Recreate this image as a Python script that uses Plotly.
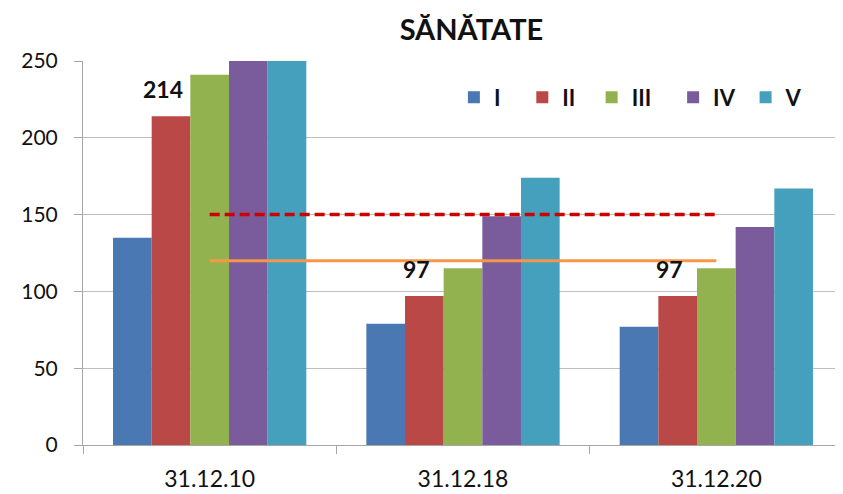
import plotly.graph_objects as go

# data
dates = ["31.12.10", "31.12.18", "31.12.20"]
series_names = ["I", "II", "III", "IV", "V"]
values_i = [135, 79, 77]
values_ii = [214, 97, 97]
values_iii = [241, 115, 115]
values_iv = [250, 149, 142]
values_v = [250, 174, 167]
labels_ii = ["214", "97", "97"]
threshold_high = [150, 150, 150]
threshold_low = [120, 120, 120]
y_ticks = [0, 50, 100, 150, 200, 250]

colors = ["#4A78B2", "#BA4846", "#92B250", "#7A5C9C", "#45A0BE"]
all_values = [values_i, values_ii, values_iii, values_iv, values_v]
# trailing no-break spaces widen the legend entries a little
legend_pad = [3, 2, 3, 1, 0]

FONT = "Lato"

fig = go.Figure()

for name, vals, col, pad in zip(series_names, all_values, colors, legend_pad):
    fig.add_trace(
        go.Bar(
            x=dates,
            y=vals,
            name="<b>" + name + "</b>" + "\u00a0" * pad,
            marker=dict(color=col, line=dict(width=0)),
            cliponaxis=False,
        )
    )

# value labels over series II, sitting a bit left of the bar like Excel does
for d, v, t in zip(dates, values_ii, labels_ii):
    fig.add_annotation(
        x=d, y=v, xref="x", yref="y",
        text="<b>" + t + "</b>",
        showarrow=False,
        xshift=-47, yshift=11,
        yanchor="bottom",
        font=dict(family=FONT, size=23, color="#111111"),
    )

# reference lines between the category centres
fig.add_trace(
    go.Scatter(
        x=dates, y=threshold_high, mode="lines", showlegend=False,
        line=dict(color="#CC0000", width=3.5, dash="10px,5px"), hoverinfo="skip",
    )
)
fig.add_trace(
    go.Scatter(
        x=dates, y=threshold_low, mode="lines", showlegend=False,
        line=dict(color="#F79646", width=3), hoverinfo="skip",
    )
)

# page has an 8px body margin, so the figure is drawn 8px in from the corner
fig.update_layout(
    width=835,
    height=486,
    barmode="group",
    bargap=0.237,
    bargroupgap=0,
    plot_bgcolor="white",
    paper_bgcolor="white",
    margin=dict(l=75, r=0, t=53, b=49),
    title=dict(
        text="<b>SĂNĂTATE</b>",
        x=0.555, xanchor="center", y=0.955, yanchor="middle",
        font=dict(family=FONT, size=29, color="#111111"),
    ),
    legend=dict(
        orientation="h",
        x=0.488, y=0.905, xanchor="left", yanchor="middle",
        font=dict(family=FONT, size=22, color="#111111"),
        bgcolor="rgba(0,0,0,0)",
        itemwidth=30,
        traceorder="normal",
    ),
    font=dict(family=FONT),
)

fig.update_yaxes(
    range=[0, 250],
    tickvals=y_ticks,
    showgrid=True,
    gridcolor="#BEBEBE",
    gridwidth=1,
    showline=True,
    linecolor="#A6A6A6",
    ticks="outside",
    ticklen=8,
    tickcolor="#A6A6A6",
    tickfont=dict(family=FONT, size=21, color="#111111"),
    ticklabelstandoff=12,
    zeroline=False,
)
fig.update_xaxes(
    type="category",
    showline=True,
    linecolor="#A6A6A6",
    ticks="outside",
    tickson="boundaries",
    ticklen=8,
    tickcolor="#A6A6A6",
    tickfont=dict(family=FONT, size=23, color="#111111"),
    ticklabelstandoff=13,
    showgrid=False,
)

fig.write_html("out.html")
